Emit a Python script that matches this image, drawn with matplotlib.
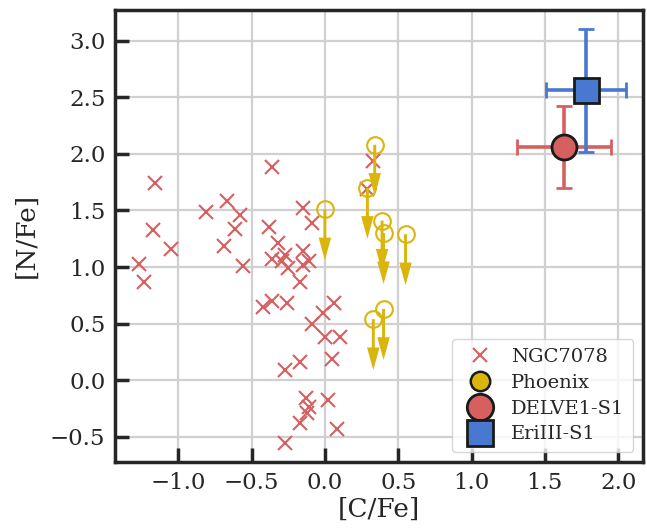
import numpy as np
import matplotlib

matplotlib.use("Agg")
import matplotlib.pyplot as plt
from matplotlib.lines import Line2D

# NGC7078 (M15) stars
ngc_cfe = [-0.36, -1.16, -0.81, -0.67, -0.58, -1.17, -0.61, -1.05, -0.69, -1.27,
           -1.23, -0.56, -0.38, -0.15, -0.09, -0.32, -0.27, -0.36, -0.29, -0.25,
           -0.15, -0.15, -0.11, -0.17, -0.42, -0.36, -0.26, -0.09, -0.01, 0.06,
           0.00, 0.10, 0.05, -0.17, -0.27, -0.13, -0.11, -0.17, -0.12, 0.02,
           0.08, -0.27, 0.33, 0.29]
ngc_nfe = [1.88, 1.74, 1.49, 1.58, 1.46, 1.33, 1.34, 1.16, 1.19, 1.03,
           0.87, 1.01, 1.35, 1.52, 1.39, 1.21, 1.11, 1.07, 1.05, 0.99,
           1.14, 1.02, 1.05, 0.87, 0.65, 0.70, 0.68, 0.50, 0.59, 0.68,
           0.38, 0.38, 0.19, 0.16, 0.09, -0.16, -0.24, -0.38, -0.29, -0.17,
           -0.43, -0.55, 1.94, 1.69]

# Phoenix stream stars (upper limits on [N/Fe])
phx_cfe = [0.34, 0.29, 0.00, 0.39, 0.40, 0.55, 0.40, 0.33]
phx_nfe = [2.08, 1.70, 1.51, 1.41, 1.30, 1.29, 0.63, 0.54]

# DELVE1-S1 and EriIII-S1
delve_cfe, delve_cfe_err = 1.63, 0.32
delve_nfe, delve_nfe_err = 2.06, 0.36
eri_cfe, eri_cfe_err = 1.78, 0.27
eri_nfe, eri_nfe_err = 2.56, 0.54

RED = "#d65f5f"
BLUE = "#4878d0"
GOLD = "#dbb40c"
DARK = "#262626"

plt.rcParams["font.family"] = "DejaVu Serif"
plt.rcParams["mathtext.fontset"] = "dejavuserif"

fig = plt.figure(figsize=(6.47, 5.29), dpi=100)
ax = fig.add_axes([0.178, 0.127, 0.816, 0.854])

ax.grid(True, color="#d0d0d0", lw=1.6, zorder=0)
ax.set_axisbelow(True)

ax.plot(ngc_cfe, ngc_nfe, "x", color=RED, ms=10, mew=1.5, zorder=3)

ax.plot(phx_cfe, phx_nfe, "o", mfc="none", mec=GOLD, ms=12, mew=1.5, zorder=4)
for x, y in zip(phx_cfe, phx_nfe):
    ax.arrow(x, y, 0, -0.45, width=0.02, head_width=0.085, head_length=0.2,
             length_includes_head=True, color=GOLD, lw=0, zorder=4)

ax.errorbar(delve_cfe, delve_nfe, xerr=delve_cfe_err, yerr=delve_nfe_err, fmt="o",
            color=RED, mec="#1a1a1a", mew=2, ms=18, elinewidth=2.6, capsize=6,
            capthick=2.6, zorder=5)
ax.errorbar(eri_cfe, eri_nfe, xerr=eri_cfe_err, yerr=eri_nfe_err, fmt="s",
            color=BLUE, mec="#1a1a1a", mew=2, ms=18, elinewidth=2.6, capsize=6,
            capthick=2.6, zorder=6)

ax.set_xlim(-1.43, 2.17)
ax.set_ylim(-0.72, 3.27)
ax.set_xticks(np.arange(-1.0, 2.01, 0.5))
ax.set_yticks(np.arange(-0.5, 3.01, 0.5))
ax.tick_params(direction="in", length=10, width=2.5, labelsize=16.5, colors=DARK,
               pad=7)
for s in ax.spines.values():
    s.set_linewidth(2.5)
    s.set_color(DARK)

ax.set_xlabel("[C/Fe]", fontsize=19, color=DARK, labelpad=2)
ax.set_ylabel("[N/Fe]", fontsize=19, color=DARK, labelpad=8)

handles = [
    Line2D([], [], ls="none", marker="x", color=RED, ms=10, mew=1.5),
    Line2D([], [], ls="none", marker="o", mfc=GOLD, mec="#1a1a1a", ms=14, mew=1.8),
    Line2D([], [], ls="none", marker="o", mfc=RED, mec="#1a1a1a", ms=19, mew=2),
    Line2D([], [], ls="none", marker="s", mfc=BLUE, mec="#1a1a1a", ms=19, mew=2),
]
leg = ax.legend(handles, ["NGC7078", "Phoenix", "DELVE1-S1", "EriIII-S1"],
                loc="lower right", fontsize=14, labelspacing=0.4,
                handletextpad=0.6, borderpad=0.45, framealpha=0.8)
leg.get_frame().set_edgecolor("#cccccc")
for t in leg.get_texts():
    t.set_color(DARK)

fig.savefig("out.png", dpi=100)
